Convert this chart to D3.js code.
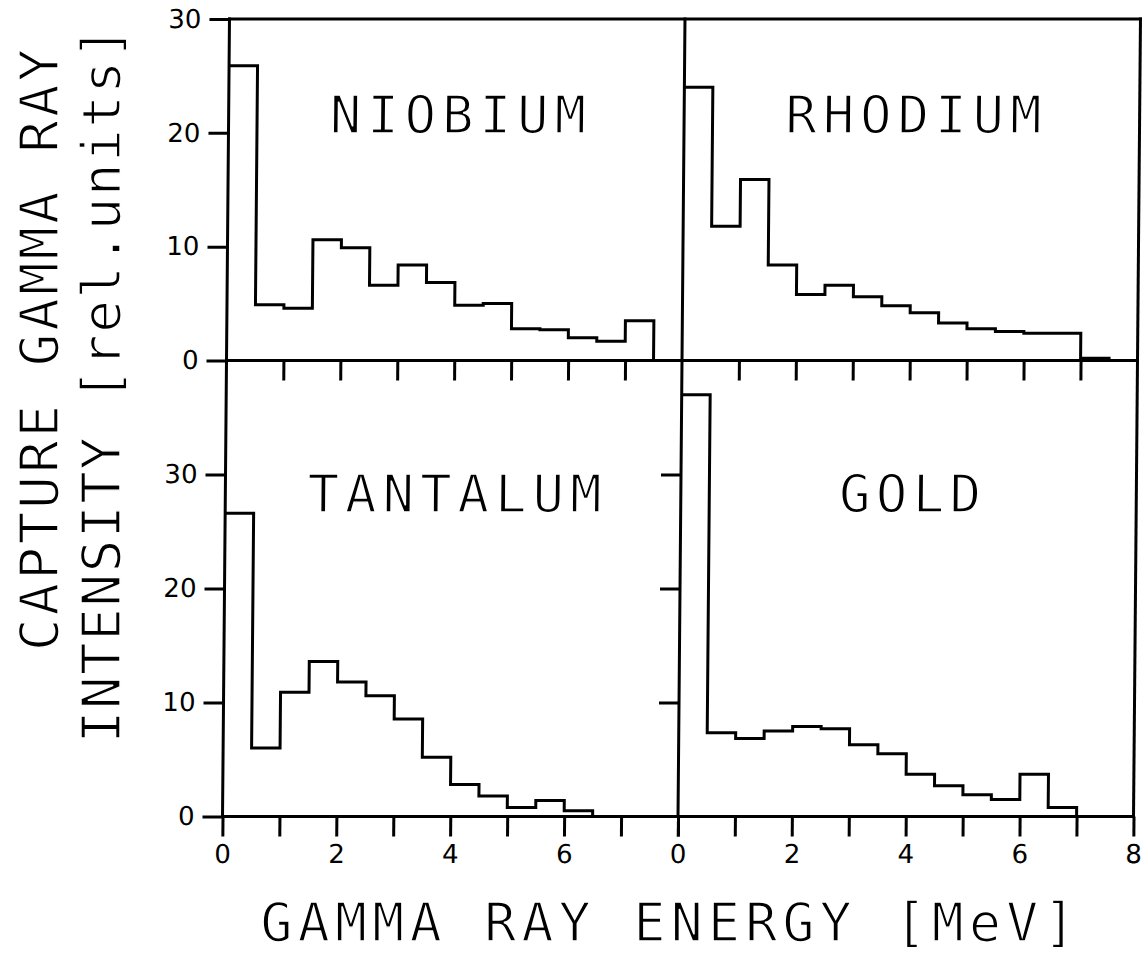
<!DOCTYPE html>
<html>
<head>
<meta charset="utf-8">
<script src="https://cdn.jsdelivr.net/npm/d3@7"></script>
<style>
  html, body { margin: 0; padding: 0; background: #fff; }
  svg { display: block; }
</style>
</head>
<body>
<svg id="chart" width="1146" height="957"></svg>
<script>
// Histogram bin edges in MeV (0.5 MeV bins)
const binEdges = [0, 0.5, 1, 1.5, 2, 2.5, 3, 3.5, 4, 4.5, 5, 5.5, 6, 6.5, 7, 7.5, 8];

// Capture gamma-ray intensity per bin [rel. units]
const niobium  = [25.9, 4.9, 4.6, 10.6, 9.9, 6.6, 8.4, 6.85, 4.85, 5.0, 2.8, 2.7, 2.0, 1.7, 3.5];
const rhodium  = [24.0, 11.8, 15.9, 8.4, 5.8, 6.6, 5.6, 4.8, 4.2, 3.3, 2.8, 2.55, 2.4, 2.4, 0.2];
const tantalum = [26.6, 6.0, 10.9, 13.6, 11.8, 10.6, 8.55, 5.2, 2.8, 1.8, 0.8, 1.4, 0.5];
const gold     = [37.0, 7.35, 6.85, 7.5, 7.9, 7.7, 6.3, 5.5, 3.7, 2.7, 1.9, 1.5, 3.7, 0.8];

const panelNames = ["NIOBIUM", "RHODIUM", "TANTALUM", "GOLD"];

const energyTicks = [0, 1, 2, 3, 4, 5, 6, 7, 8];
const energyLabels = [0, 2, 4, 6, 8];
const intensityTicks = [0, 10, 20, 30];

const xTitle = "GAMMA RAY ENERGY [MeV]";
const yTitle = ["CAPTURE GAMMA RAY", "INTENSITY [rel.units]"];

// ---------------------------------------------------------------
const svg = d3.select("#chart");

const frame = { left: 226, mid: 681.5, right: 1137, top: 19, split: 360.5, bottom: 816.5 };
const cx = (frame.left + frame.right) / 2, cy = (frame.top + frame.bottom) / 2;

// whole plot sits with a slight lean, like a plotter sheet
const g = svg.append("g")
  .attr("transform", `translate(${cx},${cy}) skewX(-0.5) translate(${-cx},${-cy})`);

const xLeft  = d3.scaleLinear().domain([0, 8]).range([frame.left, frame.mid]);
const xRight = d3.scaleLinear().domain([0, 8]).range([frame.mid, frame.right]);
const yTop    = d3.scaleLinear().domain([0, 30]).range([frame.split, frame.top]);
const yBottom = d3.scaleLinear().domain([0, 40]).range([frame.bottom, frame.split]);

const LW = 3;
const monoFont = "'DejaVu Sans Mono', monospace";
const numFont = "'DejaVu Sans', 'Liberation Sans', sans-serif";

// panel frame lines
const frameLines = [
  [xLeft(0), yTop(30), xRight(8), yTop(30)],
  [xLeft(0), yTop(0), xRight(8), yTop(0)],
  [xLeft(0), yBottom(0), xRight(8), yBottom(0)],
  [xLeft(0), yTop(30), xLeft(0), yBottom(0)],
  [xRight(0), yTop(30), xRight(0), yBottom(0)],
  [xRight(8), yTop(30), xRight(8), yBottom(0)]
];
g.append("g").selectAll("line").data(frameLines).join("line")
  .attr("x1", d => d[0]).attr("y1", d => d[1])
  .attr("x2", d => d[2]).attr("y2", d => d[3])
  .attr("stroke", "#000").attr("stroke-width", LW)
  .attr("stroke-linecap", "square");

function styleAxis(sel, fontSize) {
  sel.select(".domain").remove();
  sel.selectAll(".tick line").attr("stroke", "#000").attr("stroke-width", LW);
  sel.selectAll(".tick text")
    .attr("fill", "#000")
    .style("font-family", numFont)
    .style("font-size", fontSize + "px");
}

// Y axes (left side, outward ticks, labelled)
[yTop, yBottom].forEach(ys => {
  const ax = g.append("g")
    .attr("transform", `translate(${frame.left},0)`)
    .call(d3.axisLeft(ys).tickValues(intensityTicks).tickSize(20).tickPadding(8)
      .tickFormat(d3.format("d")));
  styleAxis(ax, 26);
});

// Gold panel: unlabelled ticks pointing left from the divider
{
  const ax = g.append("g")
    .attr("transform", `translate(${frame.mid},0)`)
    .call(d3.axisLeft(yBottom).tickValues([10, 20, 30]).tickSize(20).tickFormat(""));
  styleAxis(ax, 26);
}

// Top panels: energy ticks hanging below the split line
[xLeft, xRight].forEach(xs => {
  const ax = g.append("g")
    .attr("transform", `translate(0,${frame.split})`)
    .call(d3.axisBottom(xs).tickValues(energyTicks.slice(1, -1)).tickSize(20).tickFormat(""));
  styleAxis(ax, 26);
});

// Bottom panels: energy axis with labels
[[xLeft, energyLabels.slice(0, -1)], [xRight, energyLabels]].forEach(([xs, labs]) => {
  const ax = g.append("g")
    .attr("transform", `translate(0,${frame.bottom})`)
    .call(d3.axisBottom(xs).tickValues(energyTicks).tickSize(20).tickPadding(8)
      .tickFormat(d => labs.includes(d) ? d3.format("d")(d) : ""));
  styleAxis(ax, 26);
  ax.selectAll(".tick text").attr("y", 28).attr("dy", "0.73em");
});

// Histograms as step outlines
const panels = [
  { values: niobium,  x: xLeft,  y: yTop,    name: panelNames[0], base: 133 },
  { values: rhodium,  x: xRight, y: yTop,    name: panelNames[1], base: 133 },
  { values: tantalum, x: xLeft,  y: yBottom, name: panelNames[2], base: 512 },
  { values: gold,     x: xRight, y: yBottom, name: panelNames[3], base: 512 }
];

panels.forEach(p => {
  const pts = p.values.map((v, i) => [binEdges[i], v]);
  pts.push([binEdges[p.values.length], 0]);
  const line = d3.line()
    .x(d => p.x(d[0]))
    .y(d => p.y(d[1]))
    .curve(d3.curveStepAfter);
  g.append("path")
    .attr("d", line(pts))
    .attr("fill", "none")
    .attr("stroke", "#000")
    .attr("stroke-width", LW)
    .attr("stroke-linejoin", "miter");

  const cxp = (p.x(0) + p.x(8)) / 2 + 1.5;
  g.append("text")
    .attr("x", cxp).attr("y", p.base)
    .attr("text-anchor", "middle")
    .attr("textLength", p.name.length * 38 - 10)
    .attr("lengthAdjust", "spacing")
    .style("font-family", monoFont)
    .style("font-size", "52px")
    .attr("fill", "#000")
    .attr("stroke", "#fff").attr("stroke-width", 1.4)
    .text(p.name);
});

// Axis titles
svg.append("text")
  .attr("x", 668).attr("y", 941)
  .attr("text-anchor", "middle")
  .attr("textLength", xTitle.length * 37.5 - 10)
  .attr("lengthAdjust", "spacing")
  .style("font-family", monoFont)
  .style("font-size", "53px")
  .attr("fill", "#000")
  .attr("stroke", "#fff").attr("stroke-width", 1.4)
  .text(xTitle);

const yTitlePos = [{ x: 58, y: 350, adv: 36 }, { x: 120, y: 385, adv: 34.6 }];
yTitle.forEach((t, i) => {
  const p = yTitlePos[i];
  svg.append("text")
    .attr("transform", `translate(${p.x},${p.y}) rotate(-90)`)
    .attr("text-anchor", "middle")
    .attr("textLength", t.length * p.adv - 10)
    .attr("lengthAdjust", "spacing")
    .style("font-family", monoFont)
    .style("font-size", "54px")
    .attr("fill", "#000")
    .attr("stroke", "#fff").attr("stroke-width", 1.4)
    .text(t);
});
</script>
</body>
</html>
